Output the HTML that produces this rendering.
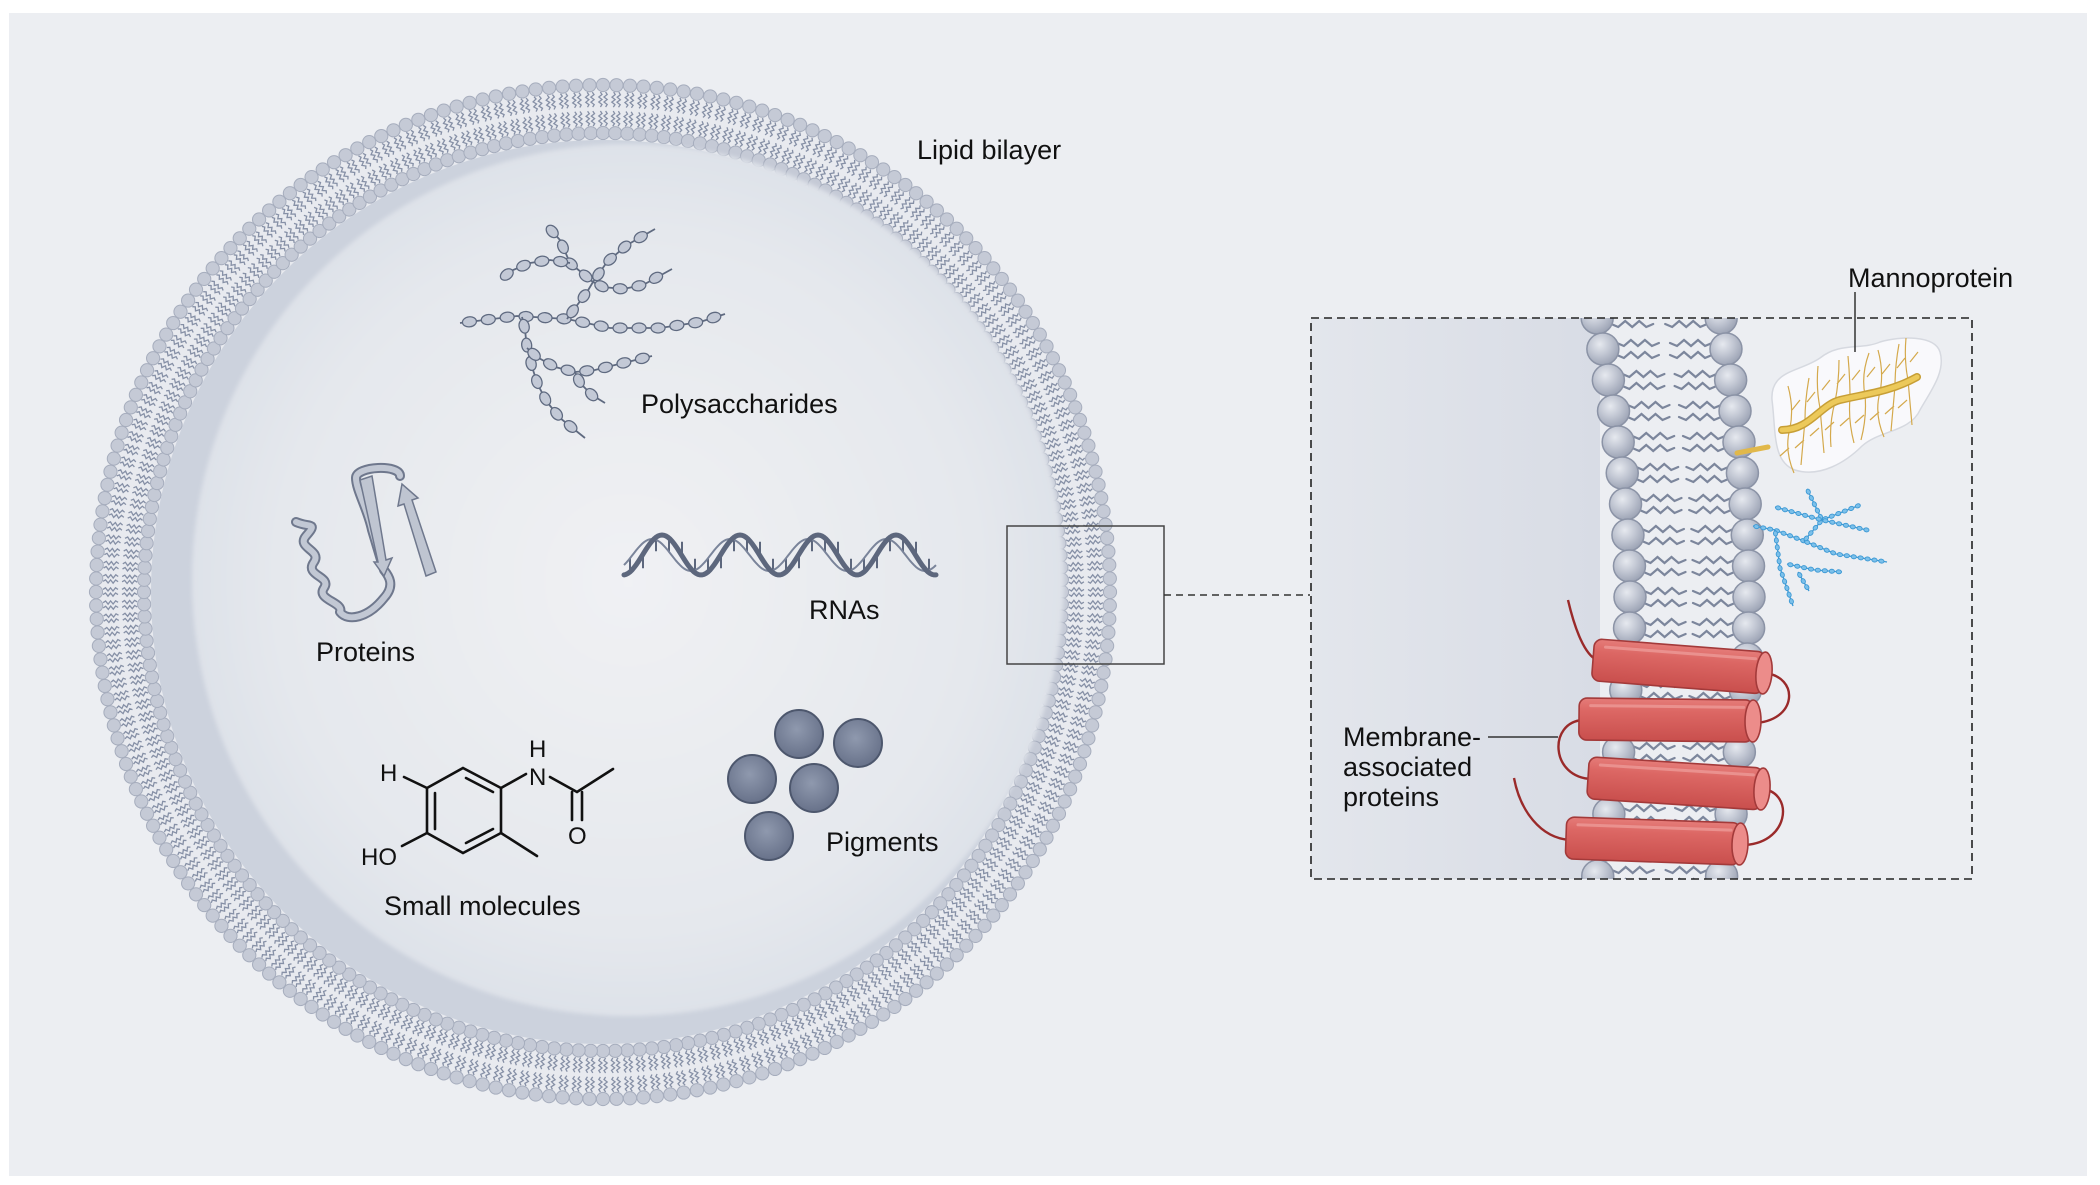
<!DOCTYPE html>
<html><head><meta charset="utf-8"><style>
html,body{margin:0;padding:0;background:#fff;}
svg{display:block;}
text{font-family:"Liberation Sans",sans-serif;fill:#111;}
</style></head><body>
<svg id="s" width="2100" height="1185" viewBox="0 0 2100 1185" xmlns="http://www.w3.org/2000/svg">
<defs>
<radialGradient id="inner" cx="0.5" cy="0.5" r="0.5">
<stop offset="0" stop-color="#f0f1f4"/><stop offset="0.8" stop-color="#e5e8ed"/><stop offset="1" stop-color="#dee2e9"/>
</radialGradient>
<radialGradient id="head" cx="0.4" cy="0.35" r="0.65">
<stop offset="0" stop-color="#e6e9ef"/><stop offset="0.5" stop-color="#c3c8d4"/><stop offset="1" stop-color="#9ea5b6"/>
</radialGradient>
<radialGradient id="pig" cx="0.45" cy="0.4" r="0.6">
<stop offset="0" stop-color="#8f99ae"/><stop offset="1" stop-color="#68728a"/>
</radialGradient>
<linearGradient id="leftg" x1="0" x2="1" y1="0" y2="0">
<stop offset="0" stop-color="#e3e6ec"/><stop offset="1" stop-color="#d8dce5"/>
</linearGradient>
<linearGradient id="cyl" x1="0" x2="0" y1="0" y2="1">
<stop offset="0" stop-color="#e57c79"/><stop offset="0.3" stop-color="#dc6764"/><stop offset="1" stop-color="#c94f4d"/>
</linearGradient>
<filter id="bl" x="-10%" y="-10%" width="120%" height="120%"><feGaussianBlur stdDeviation="2"/></filter>
<filter id="bl2" x="-20%" y="-20%" width="140%" height="140%"><feGaussianBlur stdDeviation="2"/></filter>
<clipPath id="boxclip"><rect x="1311" y="318" width="661" height="561"/></clipPath>
</defs>
<rect x="9" y="13" width="2078" height="1163" fill="#eceef2"/>
<g id="cell"></g>
<circle cx="603" cy="592" r="452" fill="#ccd2dd"/>
<circle cx="628" cy="580" r="436" fill="url(#inner)" filter="url(#bl)"/>
<g id="poly"></g>
<g fill="none" stroke-linecap="round" stroke-linejoin="round">
<path d="M296,522 C310,528 318,522 306,536 C296,548 322,550 314,562 C304,576 332,576 324,588 C316,600 344,602 340,612 C348,622 368,618 384,598 C396,585 388,575 384,570 L372,530 C368,510 356,490 356,478 C356,466 400,464 400,476" stroke="#6f788d" stroke-width="10"/>
<path d="M296,522 C310,528 318,522 306,536 C296,548 322,550 314,562 C304,576 332,576 324,588 C316,600 344,602 340,612 C348,622 368,618 384,598 C396,585 388,575 384,570 L372,530 C368,510 356,490 356,478 C356,466 400,464 400,476" stroke="#c2c8d4" stroke-width="6"/>
</g>
<path d="M360,480 L372,476 L386,560 L392,558 L384,576 L374,562 L378,562 Z" fill="#bfc5d1" stroke="#6f788d" stroke-width="1.5"/>
<path d="M426,576 L436,572 L412,500 L418,498 L402,484 L398,506 L404,504 Z" fill="#bfc5d1" stroke="#6f788d" stroke-width="1.5"/>
<g id="rna"></g>
<g fill="url(#pig)" stroke="#4d576d" stroke-width="2">
<circle cx="799" cy="734" r="24"/><circle cx="858" cy="743" r="24"/><circle cx="752" cy="779" r="24"/><circle cx="814" cy="788" r="24"/><circle cx="769" cy="836" r="24"/>
</g>
<g stroke="#111" stroke-width="2.6" fill="none" stroke-linecap="round">
<path d="M463,768 L501,788 L501,833 L463,853 L427,833 L427,788 Z"/>
<path d="M466,778 L493,792 M435,793 L435,829 M466,843 L493,829"/>
<path d="M427,788 L404,777 M427,833 L402,846 M501,833 L537,856 M501,788 L526,774 M550,777 L577,792 L613,769 M572,792 L572,820 M582,792 L582,820"/>
</g>
<text x="380" y="781" font-size="24">H</text>
<text x="361" y="865" font-size="24">HO</text>
<text x="529" y="757" font-size="24">H</text>
<text x="529" y="785" font-size="24">N</text>
<text x="568" y="844" font-size="24">O</text>
<text x="917" y="159" font-size="27">Lipid bilayer</text>
<text x="641" y="413" font-size="27">Polysaccharides</text>
<text x="316" y="661" font-size="27">Proteins</text>
<text x="809" y="619" font-size="27">RNAs</text>
<text x="384" y="915" font-size="27">Small molecules</text>
<text x="826" y="851" font-size="27">Pigments</text>
<rect x="1007" y="526" width="157" height="138" fill="none" stroke="#444" stroke-width="1.5"/>
<line x1="1164" y1="595" x2="1310" y2="595" stroke="#333" stroke-width="1.5" stroke-dasharray="7,5"/>
<rect x="1311" y="318" width="289" height="561" fill="url(#leftg)"/>
<g clip-path="url(#boxclip)" id="bil"></g>
<path d="M1772,400 C1770,370 1800,372 1820,358 C1840,342 1862,350 1880,342 C1900,336 1935,335 1940,352 C1946,372 1930,392 1920,410 C1910,432 1880,430 1862,446 C1846,462 1820,478 1795,470 C1772,462 1776,430 1772,400 Z" fill="#fbfbfd" stroke="#d5d8df" stroke-width="1.5" opacity="0.92"/>
<g id="manno" stroke="#d4a94c" stroke-width="1.2" fill="none"></g>
<path d="M1782,430 C1810,430 1820,405 1840,400 C1865,394 1890,392 1917,377" stroke="#c79f36" stroke-width="8" fill="none" stroke-linecap="round"/>
<path d="M1782,430 C1810,430 1820,405 1840,400 C1865,394 1890,392 1917,377" stroke="#ecc95a" stroke-width="5" fill="none" stroke-linecap="round"/>
<path d="M1737,453 L1768,447" stroke="#e1b84a" stroke-width="5" stroke-linecap="round"/>
<line x1="1855" y1="292" x2="1855" y2="352" stroke="#333" stroke-width="1.5"/>
<text x="1848" y="287" font-size="27">Mannoprotein</text>
<g id="blue"></g>
<g id="prots"></g>
<line x1="1488" y1="737" x2="1558" y2="737" stroke="#333" stroke-width="1.5"/>
<text x="1343" y="746" font-size="27">Membrane-</text>
<text x="1343" y="776" font-size="27">associated</text>
<text x="1343" y="806" font-size="27">proteins</text>
<rect x="1311" y="318" width="661" height="561" fill="none" stroke="#222" stroke-width="1.6" stroke-dasharray="8,5"/>
</svg>
<script>
var NS="http://www.w3.org/2000/svg";
function el(p,t,a){var e=document.createElementNS(NS,t);for(var k in a)e.setAttribute(k,a[k]);p.appendChild(e);return e;}
(function(){
var g=document.getElementById('cell'),cx=603,cy=592,N=236,d="";
el(g,'circle',{cx:cx,cy:cy,r:512,fill:'#e8eaef'});
for(var i=0;i<N;i++){var a=2*Math.PI*i/N,c=Math.cos(a),s=Math.sin(a),tx=-s,ty=c;
 [-2.6,2.6].forEach(function(off){
  [[500,485],[466,481]].forEach(function(rr){
   var pts=[];for(var k=0;k<=6;k++){var r=rr[0]+(rr[1]-rr[0])*k/6,w=off+((k%2)?1.6:-1.6)*(k>0&&k<6?1:0);
    pts.push((cx+c*r+tx*w).toFixed(1)+','+(cy+s*r+ty*w).toFixed(1));}
   d+='M'+pts.join('L');});});
}
el(g,'path',{d:d,fill:'none',stroke:'#8690a6','stroke-width':1.3});
for(var i=0;i<N;i++){var a=2*Math.PI*i/N;
 el(g,'circle',{cx:cx+507*Math.cos(a),cy:cy+507*Math.sin(a),r:6.6,fill:'#c5cad6',stroke:'#a6adbd','stroke-width':1});
 el(g,'circle',{cx:cx+459*Math.cos(a),cy:cy+459*Math.sin(a),r:6.6,fill:'#c5cad6',stroke:'#a6adbd','stroke-width':1});}
})();
function chain(g,pts,sp,rx,ry,fill,stroke,lw){
 var d='M'+pts.map(function(p){return p.join(',')}).join('L');
 el(g,'path',{d:d,fill:'none',stroke:stroke,'stroke-width':lw});
 var acc=sp/2;
 for(var i=0;i<pts.length-1;i++){var x1=pts[i][0],y1=pts[i][1],x2=pts[i+1][0],y2=pts[i+1][1],L=Math.hypot(x2-x1,y2-y1),ang=Math.atan2(y2-y1,x2-x1)*180/Math.PI;
  var t=acc;while(t<L){var x=x1+(x2-x1)*t/L,y=y1+(y2-y1)*t/L;
   el(g,'ellipse',{cx:x,cy:y,rx:rx,ry:ry,fill:fill,stroke:stroke,'stroke-width':lw*0.7,transform:'rotate('+ang+' '+x+' '+y+')'});t+=sp;}
  acc=t-L;}
}
(function(){var g=document.getElementById('poly');
var C=[
[[460,323],[517,316],[567,319],[610,328],[660,328],[700,322],[725,314]],
[[567,319],[575,308],[587,292],[593,282]],
[[593,282],[607,262],[627,245],[655,229]],
[[593,282],[603,287],[623,289],[643,285],[672,269]],
[[593,282],[570,263],[560,240],[550,229]],
[[570,263],[550,260],[530,263],[513,270],[502,278]],
[[522,317],[525,330],[527,348],[532,367],[538,385],[547,402],[560,418],[585,438]],
[[527,348],[537,357],[555,367],[575,372],[595,370],[615,365],[652,356]],
[[575,372],[580,383],[592,395],[605,403]]];
C.forEach(function(p){chain(g,p,19,7,5,'#c3c9d6','#5f6a80',1.8);});
})();
(function(){var g=document.getElementById('rna'),d='',d2='',t='';
for(var x=624;x<=937;x+=2){var y=555-20*Math.cos(2*Math.PI*(x-662)/78);d+=(x==624?'M':'L')+x+','+y.toFixed(1);
 var y2=555-16*Math.cos(2*Math.PI*(x-652)/78);d2+=(x==624?'M':'L')+x+','+y2.toFixed(1);}
for(var x=630;x<=930;x+=13){var y=555-20*Math.cos(2*Math.PI*(x-662)/78);t+='M'+x+','+y.toFixed(1)+'L'+x+','+(y+(y<555?14:-14)).toFixed(1);}
el(g,'path',{d:t,stroke:'#5d677d','stroke-width':2,fill:'none'});
el(g,'path',{d:d2,stroke:'#7a849a','stroke-width':2,fill:'none'});
el(g,'path',{d:d,stroke:'#5d677d','stroke-width':5,fill:'none','stroke-linecap':'round'});
})();
(function(){var g=document.getElementById('bil'),d='';
function lx(y){return 1597+33*Math.sin(Math.PI*(y-317)/563);}
function rx(y){return 1721+28*Math.sin(Math.PI*(y-317)/563);}
var ys=[];for(var y=318;y<=890;y+=31)ys.push(y);
ys.forEach(function(y){
 var a=lx(y),b=rx(y);
 [[a+14,1],[b-14,-1]].forEach(function(o){
  [-6,6].forEach(function(off){var x0=o[0],dir=o[1],pts=[];
   for(var k=0;k<=6;k++){var x=x0+dir*k*7,yy=y+off+((k%2)?3:-3)*(k>0&&k<6?1:0);pts.push(x.toFixed(1)+','+yy.toFixed(1));}
   d+='M'+pts.join('L');});});});
el(g,'path',{d:d,fill:'none',stroke:'#7c869c','stroke-width':2.2,'stroke-linecap':'round'});
ys.forEach(function(y){
 [lx(y),rx(y)].forEach(function(x){el(g,'circle',{cx:x,cy:y,r:16,fill:'url(#head)',stroke:'#8b93a6','stroke-width':1.5});});});
})();
(function(){var g=document.getElementById('manno'),d='';
var base=[[1790,428],[1805,420],[1820,408],[1835,402],[1850,398],[1865,395],[1880,392],[1895,386],[1908,380]];
base.forEach(function(p,i){
 d+='M'+p[0]+','+p[1]+' q'+(4-i%3*4)+',-20 '+(-2+i%2*6)+',-42';
 d+='M'+p[0]+','+p[1]+' q'+(-6+i%3*4)+',22 '+(4-i%2*8)+',45';
 d+='M'+(p[0]+2)+','+(p[1]-18)+' l8,-10 M'+(p[0]-1)+','+(p[1]+20)+' l-9,8';});
el(g,'path',{d:d});
})();
(function(){var g=document.getElementById('blue');
var C=[[[1753,526],[1775,530],[1804,541]],[[1804,541],[1836,554],[1887,562]],[[1775,530],[1780,568],[1793,606]],
[[1787,564],[1815,570],[1842,572]],[[1798,572],[1809,591]],[[1804,541],[1822,520]],[[1822,520],[1807,489]],[[1822,520],[1775,507]],[[1822,520],[1860,505]],[[1822,520],[1867,530]]];
C.forEach(function(p){chain(g,p,7,2.6,2,'#7cc0ea','#3b98d4',1.3);});
})();
(function(){var g=document.getElementById('prots');
var L=[[1597,660,1764,673],[1583,719,1753,721],[1592,778,1762,789],[1570,838,1740,844]];
el(g,'path',{d:'M1568,600 C1575,630 1585,655 1597,660',stroke:'#9a2a2a','stroke-width':2.4,fill:'none'});
el(g,'path',{d:'M1514,778 C1520,810 1540,838 1570,840',stroke:'#9a2a2a','stroke-width':2.4,fill:'none'});
el(g,'path',{d:'M1764,673 C1800,676 1798,722 1753,723',stroke:'#9a2a2a','stroke-width':2.4,fill:'none'});
el(g,'path',{d:'M1583,720 C1548,722 1550,778 1592,779',stroke:'#9a2a2a','stroke-width':2.4,fill:'none'});
el(g,'path',{d:'M1762,789 C1795,792 1790,846 1740,845',stroke:'#9a2a2a','stroke-width':2.4,fill:'none'});
L.forEach(function(c){var x1=c[0],y1=c[1],x2=c[2],y2=c[3],len=Math.hypot(x2-x1,y2-y1),ang=Math.atan2(y2-y1,x2-x1)*180/Math.PI;
 var gg=el(g,'g',{transform:'translate('+x1+','+y1+') rotate('+ang+')'});
 el(gg,'rect',{x:-4,y:-21,width:len+4,height:42,rx:8,fill:'url(#cyl)',stroke:'#a33a3a','stroke-width':1.6});
 el(gg,'rect',{x:6,y:-15,width:len-14,height:3,rx:1.5,fill:'#ec9a97',opacity:0.8});
 el(gg,'ellipse',{cx:len,cy:0,rx:8,ry:21,fill:'#ec8c8a',stroke:'#a33a3a','stroke-width':1.6});
});})();
</script>
</body></html>
